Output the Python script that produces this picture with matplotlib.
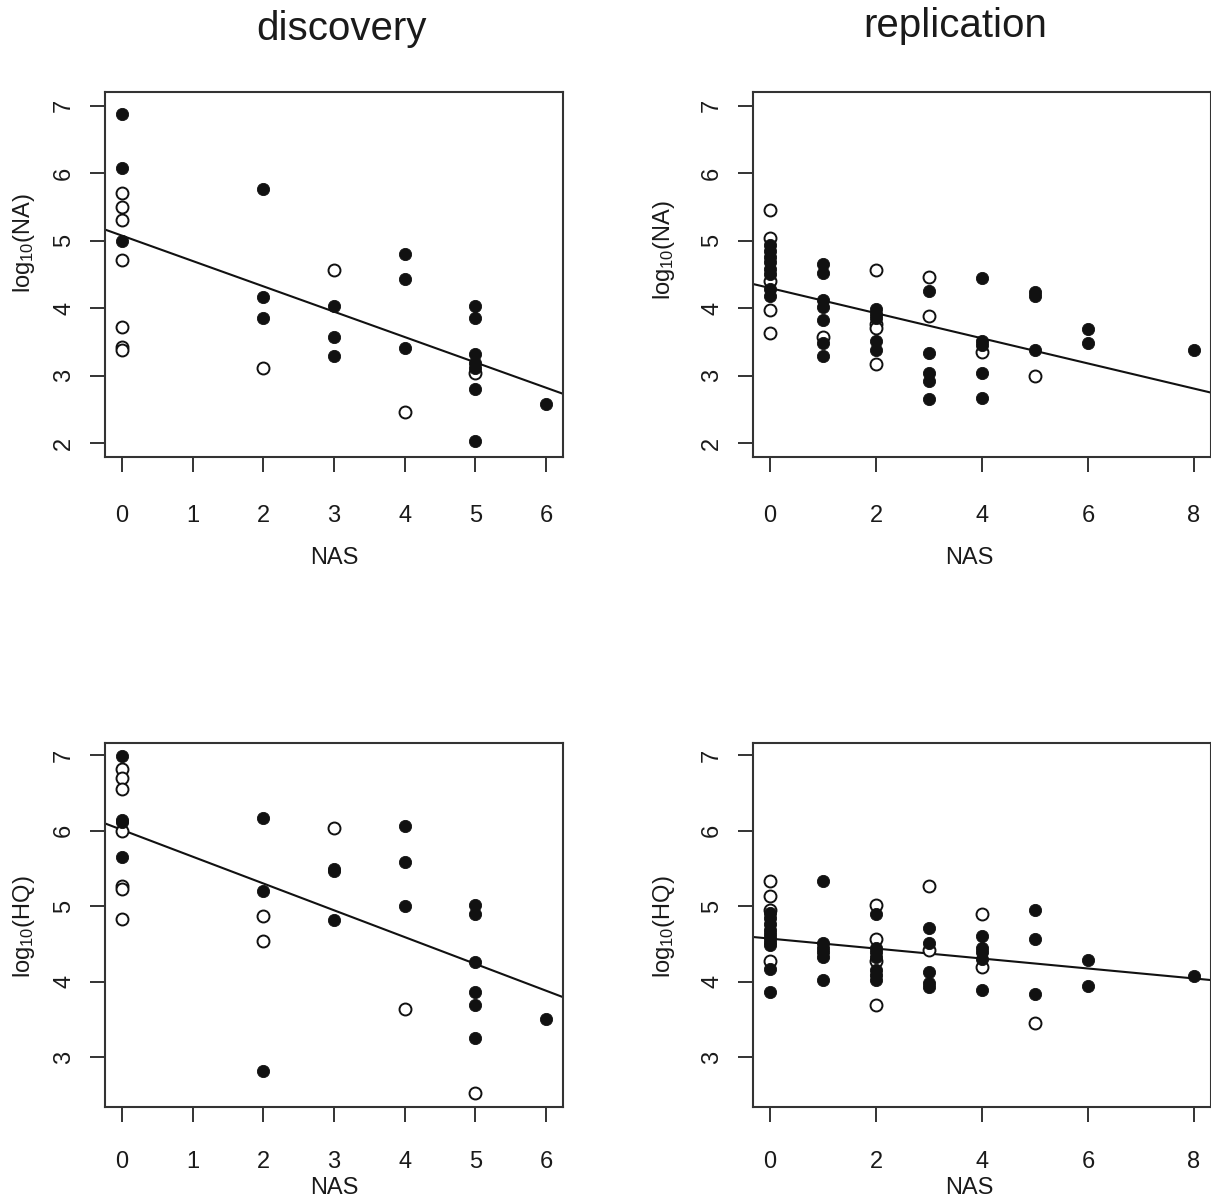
import numpy as np
import matplotlib
matplotlib.use('Agg')
import matplotlib.pyplot as plt

plt.rcParams['font.family'] = ['Liberation Sans', 'DejaVu Sans']
plt.rcParams['mathtext.fontset'] = 'custom'
plt.rcParams['mathtext.rm'] = 'Liberation Sans'
plt.rcParams['mathtext.default'] = 'regular'

# discovery, log10(NA)
disc_na_filled_x = [0, 0, 0, 2, 2, 2, 3, 3, 3, 4, 4, 4, 5, 5, 5, 5, 5, 5, 5, 6]
disc_na_filled_y = [6.87, 6.07, 4.99, 5.77, 4.17, 3.85, 4.03, 3.58, 3.29, 4.81, 4.43, 3.42,
                    4.03, 3.85, 3.33, 3.19, 3.12, 2.80, 2.03, 2.58]
disc_na_open_x = [0, 0, 0, 0, 0, 0, 0, 2, 3, 4, 5]
disc_na_open_y = [5.70, 5.50, 5.30, 4.72, 3.72, 3.43, 3.38, 3.11, 4.57, 2.47, 3.05]
disc_na_fit = (5.075, -0.375)   # intercept, slope

# replication, log10(NA)
repl_na_filled_x = [0, 0, 0, 0, 0, 0, 0, 0,
                    1, 1, 1, 1, 1, 1, 1,
                    2, 2, 2, 2, 2,
                    3, 3, 3, 3, 3,
                    4, 4, 4, 4, 4,
                    5, 5, 5, 6, 6, 8]
repl_na_filled_y = [4.94, 4.85, 4.76, 4.68, 4.58, 4.51, 4.29, 4.18,
                    4.65, 4.52, 4.12, 4.02, 3.82, 3.49, 3.29,
                    3.99, 3.92, 3.85, 3.51, 3.38,
                    4.25, 3.34, 3.05, 2.93, 2.66,
                    4.45, 3.51, 3.45, 3.04, 2.68,
                    4.24, 4.18, 3.39, 3.69, 3.48, 3.39]
repl_na_open_x = [0, 0, 0, 0, 0, 1, 2, 2, 2, 2, 3, 3, 4, 5]
repl_na_open_y = [5.46, 5.04, 4.41, 3.98, 3.63, 3.57, 4.57, 3.77, 3.71, 3.18, 4.46, 3.88, 3.36, 3.00]
repl_na_fit = (4.30, -0.186)

# discovery, log10(HQ)
disc_hq_filled_x = [0, 0, 0, 0, 2, 2, 2, 3, 3, 3, 4, 4, 4, 5, 5, 5, 5, 5, 5, 6]
disc_hq_filled_y = [6.99, 6.14, 6.11, 5.65, 6.17, 5.20, 2.82, 5.49, 5.46, 4.81,
                    6.06, 5.59, 5.00, 5.01, 4.90, 4.26, 3.86, 3.69, 3.25, 3.50]
disc_hq_open_x = [0, 0, 0, 0, 0, 0, 0, 2, 2, 3, 4, 5]
disc_hq_open_y = [6.81, 6.69, 6.55, 5.99, 5.27, 5.23, 4.83, 4.87, 4.54, 6.04, 3.64, 2.52]
disc_hq_fit = (6.01, -0.355)

# replication, log10(HQ)
repl_hq_filled_x = [0, 0, 0, 0, 0, 0, 0, 0, 0, 0,
                    1, 1, 1, 1, 1, 1,
                    2, 2, 2, 2, 2, 2, 2,
                    3, 3, 3, 3, 3,
                    4, 4, 4, 4, 4,
                    5, 5, 5, 6, 6, 8]
repl_hq_filled_y = [4.91, 4.84, 4.76, 4.69, 4.63, 4.58, 4.52, 4.48, 4.17, 3.86,
                    5.33, 4.51, 4.45, 4.39, 4.33, 4.02,
                    4.89, 4.45, 4.39, 4.33, 4.15, 4.09, 4.02,
                    4.71, 4.51, 4.13, 3.98, 3.93,
                    4.61, 4.45, 4.39, 4.30, 3.89,
                    4.95, 4.57, 3.83, 4.29, 3.94, 4.07]
repl_hq_open_x = [0, 0, 0, 0, 2, 2, 2, 2, 3, 3, 4, 4, 5]
repl_hq_open_y = [5.33, 5.13, 4.95, 4.27, 5.02, 4.57, 4.27, 3.69, 5.26, 4.42, 4.90, 4.20, 3.45]
repl_hq_fit = (4.57, -0.066)

W, H = 1211, 1201
INK = '#111111'
BOX = '#333333'


def px_rect(left, top, right, bottom):
    return [left / W, 1 - bottom / H, (right - left) / W, (bottom - top) / H]


def draw_panel(ax, fx, fy, ox, oy, fit, xlim, ylim, xticks, yticks, xpad):
    ax.plot(ox, oy, 'o', ms=8.6, mfc='white', mec=INK, mew=1.4, ls='none', zorder=3)
    ax.plot(fx, fy, 'o', ms=8.8, mfc=INK, mec=INK, mew=0.6, ls='none', zorder=4)
    ax.axline((0, fit[0]), slope=fit[1], color=INK, lw=1.5, zorder=2)
    ax.set_xlim(*xlim)
    ax.set_ylim(*ylim)
    ax.set_xticks(xticks)
    ax.set_yticks(yticks)
    for s in ax.spines.values():
        s.set_color(BOX)
        s.set_linewidth(1.5)
    ax.tick_params(direction='out', length=10.5, width=1.4, color=BOX,
                   labelsize=17, labelcolor='#1a1a1a')
    ax.tick_params(axis='x', pad=xpad)
    ax.tick_params(axis='y', pad=11, labelrotation=90)
    for lab in ax.get_yticklabels():
        lab.set_va('center')


fig = plt.figure(figsize=(W / 100, H / 100), dpi=100)

ax1 = fig.add_axes(px_rect(105, 92, 563, 457))
draw_panel(ax1, disc_na_filled_x, disc_na_filled_y, disc_na_open_x, disc_na_open_y,
           disc_na_fit, (-0.24, 6.24), (1.8, 7.2), range(0, 7), range(2, 8), 24)
ax2 = fig.add_axes(px_rect(753, 92, 1211, 457))
draw_panel(ax2, repl_na_filled_x, repl_na_filled_y, repl_na_open_x, repl_na_open_y,
           repl_na_fit, (-0.32, 8.32), (1.8, 7.2), range(0, 9, 2), range(2, 8), 24)
ax3 = fig.add_axes(px_rect(105, 743, 563, 1107))
draw_panel(ax3, disc_hq_filled_x, disc_hq_filled_y, disc_hq_open_x, disc_hq_open_y,
           disc_hq_fit, (-0.24, 6.24), (2.34, 7.16), range(0, 7), range(3, 8), 21)
ax4 = fig.add_axes(px_rect(753, 743, 1211, 1107))
draw_panel(ax4, repl_hq_filled_x, repl_hq_filled_y, repl_hq_open_x, repl_hq_open_y,
           repl_hq_fit, (-0.32, 8.32), (2.34, 7.16), range(0, 9, 2), range(3, 8), 21)

# titles and axis labels
fig.text(341 / W, 1 - 40 / H, 'discovery', fontsize=29, ha='center', va='baseline', color='#1a1a1a')
fig.text(955 / W, 1 - 37 / H, 'replication', fontsize=29, ha='center', va='baseline', color='#1a1a1a')

for x, y in [(334, 558), (969, 558), (334, 1188), (969, 1188)]:
    fig.text(x / W, 1 - y / H, 'NAS', fontsize=17, ha='center', va='center', color='#1a1a1a')

for x, y, lab in [(24, 243, 'log$_{10}$(NA)'), (664, 250, 'log$_{10}$(NA)'),
                  (24, 927, 'log$_{10}$(HQ)'), (664, 927, 'log$_{10}$(HQ)')]:
    fig.text(x / W, 1 - y / H, lab, fontsize=17, rotation=90, ha='center', va='center',
             color='#1a1a1a')

fig.savefig('out.png', dpi=100, facecolor='white')
